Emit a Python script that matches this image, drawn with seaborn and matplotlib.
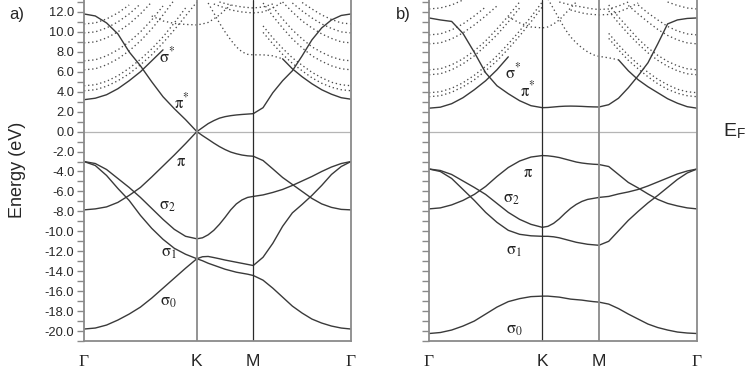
import numpy as np
import pandas as pd
import matplotlib
matplotlib.use('Agg')
import matplotlib.pyplot as plt
import seaborn as sns

nan = np.nan

# k-path Gamma-K-M-Gamma, segment lengths in units of |Gamma-K|
seg_len = [1.0, 0.5, 0.866]
path_labels = ['Γ', 'K', 'M', 'Γ']
n_steps = [10, 10, 10]   # samples per segment (values below: 11 on G-K, 10 on K-M, 10 on M-G)

# ---------------- panel a) : energies in eV ----------------
a_pistar = [11.8, 11.6, 10.9, 9.8, 8.0, 6.6, 5.0, 3.5, 2.3, 1.2, 0.0] \
    + [0.4, 0.8, 1.1, 1.35, 1.5, 1.6, 1.67, 1.72, 1.76, 1.8] \
    + [2.4, 3.9, 5.1, 6.1, 7.6, 9.2, 10.4, 11.2, 11.65, 11.8]
a_sigstar = [3.2, 3.35, 3.7, 4.3, 5.1, 6.0, 7.1, 8.2, nan, nan, nan] \
    + [nan] * 10 \
    + [nan, nan, 7.3, 6.3, 5.5, 4.8, 4.2, 3.75, 3.4, 3.25]
a_pi = [-7.85, -7.75, -7.55, -7.1, -6.4, -5.6, -4.55, -3.45, -2.35, -1.2, 0.0] \
    + [-0.4, -0.77, -1.15, -1.5, -1.8, -2.05, -2.22, -2.35, -2.43, -2.47] \
    + [-2.9, -3.74, -4.6, -5.3, -6.0, -6.7, -7.25, -7.6, -7.8, -7.85]
a_sig2 = [-3.0, -3.2, -3.8, -4.7, -5.6, -6.6, -7.7, -8.8, -9.8, -10.5, -10.75] \
    + [-10.65, -10.35, -9.9, -9.3, -8.6, -7.85, -7.25, -6.85, -6.6, -6.5] \
    + [-6.35, -6.1, -5.8, -5.4, -4.95, -4.5, -4.0, -3.55, -3.2, -3.0]
a_sig1 = [-3.0, -3.4, -4.4, -5.7, -6.9, -8.4, -9.7, -10.8, -11.7, -12.3, -12.75] \
    + [-12.55, -12.52, -12.63, -12.75, -12.88, -12.99, -13.1, -13.21, -13.32, -13.43] \
    + [-12.6, -11.2, -9.5, -8.15, -7.3, -6.4, -5.4, -4.3, -3.5, -3.0]
a_sig0 = [-19.8, -19.7, -19.4, -18.9, -18.3, -17.6, -16.7, -15.7, -14.7, -13.7, -12.75] \
    + [-12.95, -13.2, -13.4, -13.6, -13.8, -13.95, -14.1, -14.2, -14.3, -14.43] \
    + [-14.9, -15.7, -16.6, -17.5, -18.2, -18.8, -19.2, -19.5, -19.7, -19.8]

# dotted (upper, unoccupied) bands of panel a)
a_d1 = [4.1, 4.2, 4.55, 5.1, 5.8, 6.7, 7.7, 8.9, 10.2, 11.6, 13.0] + [nan] * 10 \
    + [9.95, 8.8, 7.75, 6.85, 6.1, 5.4, 4.85, 4.45, 4.2, 4.1]
a_d2 = [4.6, 4.7, 5.05, 5.6, 6.35, 7.25, 8.3, 9.5, 10.9, 12.4, nan] + [nan] * 10 \
    + [10.6, 9.4, 8.35, 7.4, 6.65, 5.95, 5.4, 4.95, 4.7, 4.6]
a_d3 = [6.2, 6.3, 6.7, 7.3, 8.1, 9.1, 10.3, 11.7, 13.2, nan, nan] + [nan] * 10 \
    + [12.9, 11.6, 10.4, 9.3, 8.4, 7.6, 7.05, 6.6, 6.3, 6.2]
a_d4 = [7.1, 7.2, 7.6, 8.2, 9.0, 10.0, 11.2, 12.6, nan, nan, nan] + [nan] * 10 \
    + [nan, 12.5, 11.3, 10.2, 9.3, 8.5, 7.95, 7.5, 7.2, 7.1]
a_d5 = [8.9, 9.0, 9.4, 10.0, 10.8, 11.8, 13.0] + [nan] * 4 + [nan] * 10 \
    + [nan, nan, 13.0, 12.0, 11.1, 10.4, 9.8, 9.35, 9.0, 8.9]
a_d6 = [9.9, 10.0, 10.4, 11.0, 11.8, 12.8] + [nan] * 5 + [nan] * 10 \
    + [nan, nan, nan, 12.9, 12.1, 11.4, 10.8, 10.35, 10.0, 9.9]
a_d7 = [10.8, 10.9, 11.3, 11.9, 12.7] + [nan] * 6 + [nan] * 10 \
    + [nan, nan, nan, nan, 12.95, 12.3, 11.7, 11.25, 10.9, 10.8]
a_d8 = [nan] * 6 + [11.6, 11.1, 10.85, 10.75, 10.7] \
    + [10.8, 10.95, 11.3, 11.7, 12.2, 12.7, nan, nan, nan, nan] + [nan] * 10
a_d9 = [nan] * 11 \
    + [nan, 12.9, 11.9, 10.9, 10.0, 9.2, 8.5, 8.0, 7.75, 7.7] \
    + [7.7, 7.6, 7.3] + [nan] * 7
a_d10 = [nan] * 11 \
    + [nan, nan, 12.8, 12.6, 12.4, 12.2, 12.1, 12.0, 11.95, 11.9] \
    + [12.0, 12.4, 13.0] + [nan] * 7
a_d11 = [nan] * 11 \
    + [nan, nan, nan, 13.0, 12.85, 12.7, 12.6, 12.5, 12.45, 12.4] \
    + [12.5, 12.8] + [nan] * 8

# ---------------- panel b) ----------------
b_pistar = [11.4, 11.2, 11.05, 9.85, 7.95, 5.9, 4.6, 3.8, 3.1, 2.6, 2.4] \
    + [2.42, 2.47, 2.52, 2.55, 2.56, 2.55, 2.53, 2.5, 2.48, 2.47] \
    + [2.7, 3.35, 4.4, 5.6, 6.9, 8.8, 10.8, 11.2, 11.35, 11.4]
b_sigstar = [2.35, 2.45, 2.8, 3.4, 4.2, 5.1, 6.2, 7.5, nan, nan, nan] \
    + [nan] * 10 \
    + [nan, 7.2, 6.1, 5.2, 4.5, 3.9, 3.3, 2.85, 2.5, 2.35]
b_pi = [-7.75, -7.65, -7.35, -6.9, -6.3, -5.5, -4.5, -3.6, -2.95, -2.55, -2.4] \
    + [-2.43, -2.5, -2.6, -2.75, -2.9, -3.05, -3.15, -3.22, -3.27, -3.3] \
    + [-3.5, -4.3, -5.1, -5.65, -6.25, -6.8, -7.2, -7.45, -7.65, -7.75]
b_sig2 = [-3.75, -3.9, -4.3, -4.95, -5.6, -6.3, -7.2, -8.1, -8.8, -9.3, -9.6] \
    + [-9.5, -9.2, -8.75, -8.2, -7.7, -7.3, -7.0, -6.8, -6.7, -6.6] \
    + [-6.5, -6.25, -6.05, -5.8, -5.45, -5.05, -4.65, -4.25, -3.95, -3.75]
b_sig1 = [-3.75, -4.0, -4.7, -5.8, -6.9, -8.1, -9.1, -9.9, -10.3, -10.45, -10.5] \
    + [-10.5, -10.55, -10.65, -10.8, -10.95, -11.1, -11.2, -11.3, -11.35, -11.4] \
    + [-11.0, -9.95, -8.9, -8.0, -7.15, -6.4, -5.6, -4.8, -4.15, -3.75]
b_sig0 = [-20.25, -20.15, -19.9, -19.5, -19.0, -18.3, -17.6, -17.05, -16.75, -16.55, -16.5] \
    + [-16.5, -16.55, -16.6, -16.7, -16.8, -16.85, -16.9, -16.98, -17.05, -17.1] \
    + [-17.3, -17.75, -18.3, -18.8, -19.3, -19.65, -19.9, -20.1, -20.2, -20.25]

b_d1 = [3.5, 3.6, 3.95, 4.5, 5.2, 6.1, 7.1, 8.3, 9.6, 11.0, 12.5] + [nan] * 10 \
    + [9.35, 8.2, 7.15, 6.3, 5.5, 4.8, 4.25, 3.85, 3.6, 3.5]
b_d2 = [3.9, 4.0, 4.35, 4.9, 5.65, 6.55, 7.6, 8.8, 10.1, 11.5, 13.0] + [nan] * 10 \
    + [9.85, 8.7, 7.65, 6.75, 5.95, 5.25, 4.7, 4.25, 4.0, 3.9]
b_d3 = [5.7, 5.8, 6.2, 6.8, 7.6, 8.6, 9.7, 11.0, 12.4, nan, nan] + [nan] * 10 \
    + [12.1, 10.9, 9.8, 8.8, 7.9, 7.15, 6.55, 6.1, 5.8, 5.7]
b_d4 = [6.2, 6.3, 6.7, 7.3, 8.1, 9.1, 10.3, 11.6, 13.0, nan, nan] + [nan] * 10 \
    + [12.7, 11.5, 10.4, 9.3, 8.4, 7.65, 7.05, 6.6, 6.3, 6.2]
b_d5 = [8.8, 8.9, 9.3, 9.9, 10.7, 11.6, 12.6] + [nan] * 4 + [nan] * 10 \
    + [nan, nan, 12.65, 11.8, 11.0, 10.25, 9.65, 9.2, 8.9, 8.8]
b_d6 = [9.7, 9.8, 10.2, 10.8, 11.6, 12.5] + [nan] * 5 + [nan] * 10 \
    + [nan, nan, nan, 12.7, 11.9, 11.2, 10.55, 10.1, 9.8, 9.7]
b_d7 = [12.3, 12.4, 12.7, 13.2] + [nan] * 7 + [nan] * 10 \
    + [nan] * 6 + [13.0, 12.65, 12.4, 12.3]
b_d8 = [nan] * 7 + [11.5, 10.9, 10.5, 10.4] \
    + [10.5, 10.8, 11.2, 11.8, 12.4, 13.0, nan, nan, nan, nan] + [nan] * 10
b_d9 = [nan] * 11 \
    + [13.3, 12.3, 11.3, 10.3, 9.5, 8.9, 8.4, 8.0, 7.7, 7.55] \
    + [7.4, 7.2] + [nan] * 8
b_d10 = [nan] * 11 \
    + [nan, nan, 13.0, 12.85, 12.7, 12.6, 12.5, 12.4, 12.3, 12.25] \
    + [12.3, 12.6, 13.0] + [nan] * 7
b_d11 = [nan] * 11 \
    + [nan, nan, nan, nan, 12.2, 12.05, 11.9, 11.8, 11.75, 11.7] \
    + [11.75, 12.0, 12.4, 12.9] + [nan] * 6

# band labels: (text, k, E)
a_labels = [(r'$\mathrm{\sigma}^{*}$', 0.735, 7.6), (r'$\mathrm{\pi}^{*}$', 0.87, 3.0),
            (r'$\mathrm{\pi}$', 0.86, -3.0), (r'$\mathrm{\sigma}_{2}$', 0.74, -7.5),
            (r'$\mathrm{\sigma}_{1}$', 0.75, -12.2), (r'$\mathrm{\sigma}_{0}$', 0.75, -17.1)]
b_labels = [(r'$\mathrm{\sigma}^{*}$', 0.74, 6.0), (r'$\mathrm{\pi}^{*}$', 0.876, 4.2),
            (r'$\mathrm{\pi}$', 0.876, -4.1), (r'$\mathrm{\sigma}_{2}$', 0.73, -6.8),
            (r'$\mathrm{\sigma}_{1}$', 0.75, -12.0), (r'$\mathrm{\sigma}_{0}$', 0.75, -19.9)]


def path_k():
    gk = np.linspace(0, seg_len[0], n_steps[0] + 1)
    km = seg_len[0] + np.linspace(0, seg_len[1], n_steps[1] + 1)[1:]
    mg = seg_len[0] + seg_len[1] + np.linspace(0, seg_len[2], n_steps[2] + 1)[1:]
    return np.concatenate([gk, km, mg])


def to_frame(bands, k):
    # split every band into continuous pieces so seaborn does not bridge the gaps
    rows = []
    for name, vals in bands.items():
        run, inside = 0, False
        for x, v in zip(k, vals):
            if np.isnan(v):
                inside = False
                continue
            if not inside:
                run += 1
            inside = True
            rows.append((f'{name}_{run}', x, v))
    return pd.DataFrame(rows, columns=['unit', 'k', 'E'])


sns.set_style('ticks')
plt.rcParams['font.family'] = ['Liberation Sans', 'DejaVu Sans']
plt.rcParams['mathtext.fontset'] = 'stix'
plt.rcParams['axes.unicode_minus'] = False

k = path_k()
k_sym = np.cumsum([0] + seg_len)

fig = plt.figure(figsize=(7.47, 3.71), dpi=100)
ax_a = fig.add_axes([84 / 747, 30 / 371, 267 / 747, 341 / 371])
ax_b = fig.add_axes([429 / 747, 30 / 371, 268 / 747, 341 / 371])

panels = [
    (ax_a, [a_pistar, a_sigstar, a_pi, a_sig2, a_sig1, a_sig0],
     [a_d1, a_d2, a_d3, a_d4, a_d5, a_d6, a_d7, a_d8, a_d9, a_d10, a_d11], a_labels,
     ['#8a8a8a', '#2a2a2a']),
    (ax_b, [b_pistar, b_sigstar, b_pi, b_sig2, b_sig1, b_sig0],
     [b_d1, b_d2, b_d3, b_d4, b_d5, b_d6, b_d7, b_d8, b_d9, b_d10, b_d11], b_labels,
     ['#2a2a2a', '#8a8a8a']),
]

line_c = '#3a3a3a'
gray = '#8a8a8a'

for ax, solid, dotted, labels, vcols in panels:
    df_s = to_frame({f's{i}': np.array(b, float) for i, b in enumerate(solid)}, k)
    df_d = to_frame({f'd{i}': np.array(b, float) for i, b in enumerate(dotted)}, k)
    sns.lineplot(data=df_d, x='k', y='E', units='unit', estimator=None, ax=ax,
                 color='#4a4a4a', lw=0.95, ls=(0, (1, 2.1)), legend=False)
    sns.lineplot(data=df_s, x='k', y='E', units='unit', estimator=None, ax=ax,
                 color=line_c, lw=1.0, legend=False)

    ax.axhline(0, color='#b5b5b5', lw=0.9, zorder=0)
    ax.axvline(k_sym[1], color=vcols[0], lw=1.3 if vcols[0] == gray else 0.9)
    ax.axvline(k_sym[2], color=vcols[1], lw=1.3 if vcols[1] == gray else 0.9)

    for txt, kx, e in labels:
        ax.text(kx, e, txt, fontsize=12, ha='center', va='center', color='#222222')

    ax.set_xlim(k_sym[0], k_sym[-1])
    ax.set_ylim(-21.0, 13.2)
    ax.set_xticks(k_sym)
    ax.set_xticklabels(path_labels)
    ax.set_yticks(np.arange(-20, 13, 2))
    ax.set_yticks(np.arange(-21, 14, 1), minor=True)
    ax.yaxis.set_major_formatter(matplotlib.ticker.FormatStrFormatter('%.1f'))
    ax.tick_params(axis='y', which='both', direction='out', length=5, width=1.0,
                   color=gray, labelsize=9.3, pad=2)
    ax.tick_params(axis='x', length=0, pad=9, labelsize=12.5)
    for lab in ax.get_xticklabels():
        if lab.get_text() == 'Γ':
            lab.set_fontfamily('Liberation Serif')
    ax.set_xlabel('')
    ax.set_ylabel('')
    ax.spines['top'].set_visible(False)
    for side in ['left', 'right', 'bottom']:
        ax.spines[side].set_color(gray)
        ax.spines[side].set_linewidth(1.3)

ax_b.set_yticklabels([])

fig.text(18 / 747, 1 - 170 / 371, 'Energy (eV)', rotation=90, fontsize=13,
         ha='center', va='center')
fig.text(17 / 747, 1 - 15 / 371, 'a)', fontsize=12, ha='center', va='center')
fig.text(403 / 747, 1 - 15 / 371, 'b)', fontsize=12, ha='center', va='center')
fig.text(735 / 747, 1 - 131 / 371, r'E$_{\mathregular{F}}$', fontsize=14,
         ha='center', va='center')

fig.savefig('out.png', dpi=100)
